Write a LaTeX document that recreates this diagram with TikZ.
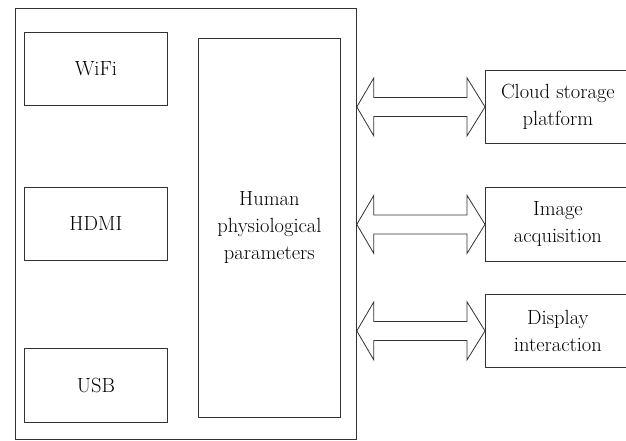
\documentclass[tikz,border=0pt]{standalone}
\usepackage{tikz}
\usetikzlibrary{calc, positioning}
\tikzset{
    boxnode/.style = {draw=black!80, rectangle, line width=0.8pt, inner sep=0pt, anchor=north west,
      minimum width=143pt, minimum height=73pt, align=center,
      font=\fontsize{20.5}{27}\selectfont},
    framenode/.style = {draw=black!80, rectangle, line width=0.8pt, inner sep=0pt, anchor=north west},
    blockarrow/.style = {draw=black!80, line width=0.8pt, fill=white, line join=miter}
}
% double block arrow from the board to a box on the right
\newcommand{\dblarrow}[2]{%
  \draw[blockarrow] let \p1=(#1.east |- #2.west), \p2=(#2.west) in
    (\x1,\y1) -- ($(\x1,\y1)+(17pt,29pt)$) -- ($(\x1,\y1)+(17pt,9.5pt)$)
    -- ($(\x2,\y2)+(-18pt,9.5pt)$) -- ($(\x2,\y2)+(-18pt,29pt)$) -- (\x2,\y2)
    -- ($(\x2,\y2)+(-18pt,-29pt)$) -- ($(\x2,\y2)+(-18pt,-9.5pt)$)
    -- ($(\x1,\y1)+(17pt,-9.5pt)$) -- ($(\x1,\y1)+(17pt,-29pt)$) -- cycle;}

\begin{document}
\begin{tikzpicture}[x=1pt, y=-1pt]
\useasboundingbox (0,0) rectangle (626,440);

\node [framenode, name=Board, minimum width=341pt, minimum height=431pt] at (15,8) {};
\node [boxnode, name=WiFi] at (24,32) {WiFi};
\node [boxnode, name=HDMI] at (24,187) {HDMI};
\node [boxnode, name=USB, minimum height=74pt] at (24,348) {USB};
\node [boxnode, name=Human, minimum width=142pt, minimum height=379pt] at (198,38) 
{Human\\physiological\\parameters};

\node [boxnode, name=Cloud, minimum width=145pt] at (485,70) {Cloud storage\\platform};
\node [boxnode, name=Image, minimum width=145pt, minimum height=74pt] at (485,187) {Image\\acquisition};
\node [boxnode, name=Display, minimum width=145pt] at (485,294) {Display\\interaction};

\dblarrow{Board}{Cloud}
\dblarrow{Board}{Image}
\dblarrow{Board}{Display}
\end{tikzpicture}
\end{document}
